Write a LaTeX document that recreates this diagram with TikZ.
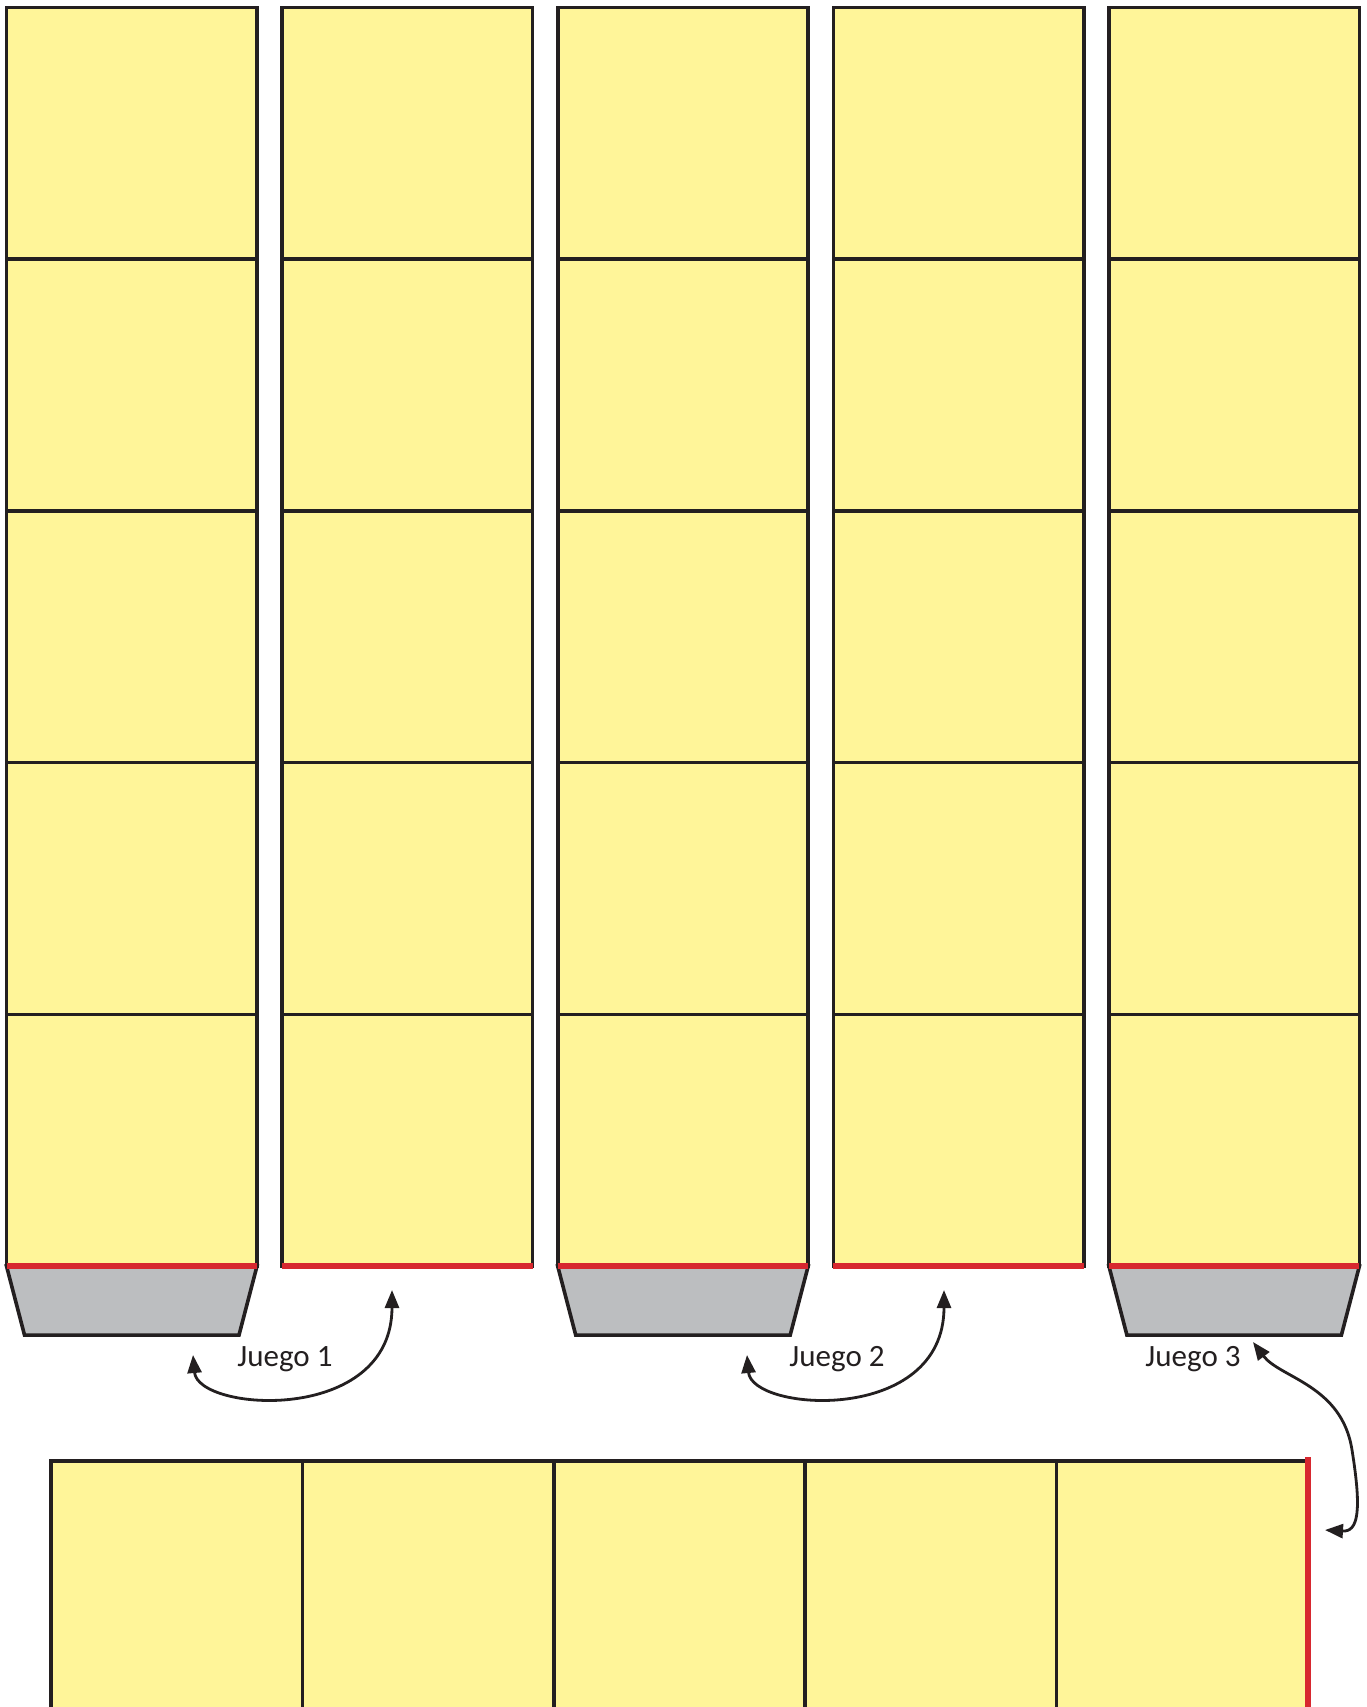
\documentclass[tikz,border=0pt]{standalone}
\usepackage{fontspec}
\setmainfont{Carlito}
\usetikzlibrary{arrows.meta,positioning}
\definecolor{tileFill}{HTML}{FFF599}
\definecolor{tileLine}{HTML}{231F20}
\definecolor{tabFill}{HTML}{BCBEC0}
\definecolor{edgeRed}{HTML}{D7282F}

\begin{document}
\begin{tikzpicture}[x=0.5pt, y=-0.5pt,
    sq/.style={draw=tileLine, line width=1.8pt, fill=tileFill, inner sep=0pt,
      outer sep=0pt, minimum width=125.25pt, minimum height=125.85pt},
    sqh/.style={sq, minimum width=125.7pt},
    tab/.style={draw=tileLine, line width=1.8pt, fill=tabFill, line join=miter},
    redge/.style={draw=edgeRed, line width=3.2pt},
    lbl/.style={font=\fontsize{15.5pt}{18pt}\selectfont, text=tileLine, inner sep=0pt},
    arr/.style={{Triangle[length=9pt,width=7pt]}-{Triangle[length=9pt,width=7pt]},
      line width=1.4pt, tileLine}]
  \useasboundingbox (0,0) rectangle (1366,1707);
  % five columns of five squares
  \foreach \c in {1,...,5}
    \foreach \r in {1,...,5}
      \node[sq] (sq-\c-\r) at ({131.75+275.6*(\c-1)}, {133.4+251.7*(\r-1)}) {};
  % grey tabs under columns 1, 3, 5
  \foreach \c in {1,3,5}
    \draw[tab] (sq-\c-5.south west) -- (sq-\c-5.south east) -- ++(-18,69)
      -- ++(-214.5,0) -- cycle;
  \foreach \c in {1,...,5}
    \draw[redge] (sq-\c-5.south west) -- (sq-\c-5.south east);
  % bottom row, lying flat
  \foreach \i in {1,...,5}
    \node[sqh] (row-\i) at ({176.7+251.4*(\i-1)}, 1586.85) {};
  \draw[redge] ([yshift=2pt]row-5.north east) -- (row-5.south east);
  % labels and arrows
  \node[lbl] (j1) at (285,1359) {Juego 1};
  \node[lbl] (j2) at (837,1359) {Juego 2};
  \node[lbl] (j3) at (1193,1359) {Juego 3};
  \coordinate (j1a) at (193,1355);
  \coordinate (j1b) at (392,1290);
  \coordinate (j2a) at (747,1355);
  \coordinate (j2b) at (944,1290);
  \coordinate (j3a) at (1253,1342);
  \coordinate (j3b) at (1325,1530);
  \draw[arr] (j1a) .. controls (198,1412) and (392,1425) .. (j1b);
  \draw[arr] (j2a) .. controls (752,1412) and (944,1425) .. (j2b);
  \draw[arr] (j3a) .. controls (1280,1378) and (1342,1385) .. (1352,1450)
    .. controls (1362,1512) and (1358,1532) .. (j3b);
\end{tikzpicture}
\end{document}
